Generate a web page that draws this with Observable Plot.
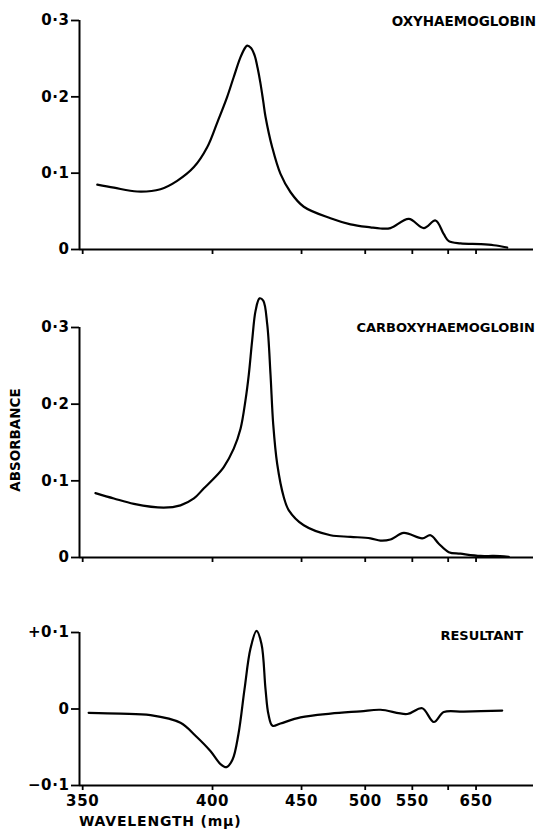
<!DOCTYPE html>
<html><head><meta charset="utf-8">
<script src="https://cdn.jsdelivr.net/npm/d3@7"></script>
<script src="https://cdn.jsdelivr.net/npm/@observablehq/plot@0.6"></script>
<style>
body{margin:0;background:#fff;}
#wrap{position:relative;width:538px;height:829px;font-family:"DejaVu Sans",sans-serif;font-weight:bold;color:#000;overflow:hidden;}
.panel{position:absolute;left:0;}
.lbl{position:absolute;font-size:13px;white-space:nowrap;line-height:1;}
</style></head><body>
<div id="wrap"></div>
<script>
// x axis (wavelength, mμ) — prism scale, linear in 1/λ²
const xDomain = [349, 811];
const xTicks = [350, 400, 450, 500, 550, 600, 650];
const xTickLabels = ["350", "400", "450", "500", "550", "", "650"];

// Oxyhaemoglobin
const oxyWavelength = [354.7,360.3,368.6,377.5,384.3,391.5,397.5,402.2,407.1,410.4,413.9,416.5,417.4,419.5,421.5,423.1,424.7,426.3,427.6,431.5,436.5,442.8,451.5,470.8,487.0,504.9,514.7,525.0,545.7,564.6,580.8,593.2,601.0,620.6,659.2,689.2,724.0];
const oxyAbsorbance = [0.085,0.081,0.076,0.079,0.090,0.108,0.134,0.166,0.200,0.226,0.252,0.265,0.267,0.264,0.254,0.238,0.218,0.194,0.174,0.134,0.099,0.075,0.056,0.041,0.033,0.029,0.0275,0.028,0.040,0.028,0.038,0.020,0.011,0.008,0.007,0.0056,0.0026];

// Carboxyhaemoglobin
const carboxyWavelength = [354.1,360.3,367.4,378.8,385.7,391.5,395.9,400.6,405.4,410.4,413.9,416.5,418.3,420.1,422.0,424.2,426.3,428.6,430.5,432.1,434.5,438.5,441.7,451.5,470.8,487.0,504.9,514.7,525.0,539.8,562.5,573.7,585.6,601.0,620.6,659.2,689.2,728.5];
const carboxyAbsorbance = [0.084,0.077,0.070,0.065,0.068,0.077,0.090,0.103,0.118,0.142,0.168,0.205,0.239,0.283,0.322,0.338,0.335,0.304,0.239,0.174,0.122,0.079,0.0615,0.042,0.029,0.027,0.025,0.022,0.0235,0.032,0.025,0.029,0.018,0.007,0.005,0.002,0.002,0.001];

// Resultant (difference)
const resultantWavelength = [351.9,362.6,373.6,385.7,392.2,399.0,403.8,406.8,409.8,412.8,416.0,419.2,422.5,425.3,427.6,429.3,431.7,436.5,449.3,470.8,495.7,514.7,543.8,562.5,578.4,593.2,626.5,710.4];
const resultantDelta = [-0.005,-0.006,-0.008,-0.018,-0.035,-0.055,-0.072,-0.076,-0.066,-0.033,0.026,0.079,0.102,0.085,0.026,-0.007,-0.022,-0.019,-0.011,-0.006,-0.003,-0.001,-0.0065,0.001,-0.017,-0.004,-0.0035,-0.002];

const yTicksAbs = [0, 0.1, 0.2, 0.3];
const yTicksRes = [-0.1, 0, 0.1];

const fmtAbs = d => d === 0 ? "0" : d.toFixed(1).replace(".", "·");
const fmtRes = d => d === 0 ? "0" : (d > 0 ? "+" : "−") + Math.abs(d).toFixed(1).replace(".", "·");

const wrap = document.getElementById("wrap");
const FONT = '"DejaVu Sans", sans-serif';

function rows(ws, vs) { return ws.map((w, i) => ({w, v: vs[i]})); }

function panel({top, height, marginTop, marginBottom, yDomain, yTicks, yFmt, data, showLabels}) {
  const chart = Plot.plot({
    width: 538, height, marginTop, marginBottom, marginLeft: 79, marginRight: 5,
    style: {fontFamily: FONT, fontSize: "15px", fontWeight: "bold", color: "#000", background: "transparent", overflow: "visible", letterSpacing: "0.6px"},
    x: {type: "pow", exponent: -2, domain: xDomain, label: null},
    y: {domain: yDomain, label: null},
    marks: [
      Plot.axisY({ticks: yTicks, tickFormat: yFmt, tickSize: 8, tickPadding: 2, strokeWidth: 1.8, label: null}),
      Plot.axisX({ticks: xTicks, tickSize: 5, tickPadding: 5, strokeWidth: 1.8, label: null,
        tickFormat: showLabels ? (d => xTickLabels[xTicks.indexOf(d)]) : (() => "")}),
      Plot.ruleX([xDomain[0]], {strokeWidth: 2}),
      Plot.ruleY([yDomain[0]], {strokeWidth: 2}),
      Plot.line(data, {x: "w", y: "v", curve: "catmull-rom", strokeWidth: 2.2, stroke: "#000"})
    ]
  });
  const d = document.createElement("div");
  d.className = "panel";
  d.style.top = top + "px";
  d.appendChild(chart);
  wrap.appendChild(d);
}

panel({top: 0, height: 262, marginTop: 20, marginBottom: 13, yDomain: [0, 0.3], yTicks: yTicksAbs, yFmt: fmtAbs,
  data: rows(oxyWavelength, oxyAbsorbance), showLabels: false});
panel({top: 300, height: 270, marginTop: 27, marginBottom: 13, yDomain: [0, 0.3], yTicks: yTicksAbs, yFmt: fmtAbs,
  data: rows(carboxyWavelength, carboxyAbsorbance), showLabels: false});
panel({top: 600, height: 229, marginTop: 32, marginBottom: 44, yDomain: [-0.1, 0.1], yTicks: yTicksRes, yFmt: fmtRes,
  data: rows(resultantWavelength, resultantDelta), showLabels: true});

function label(text, css) {
  const d = document.createElement("div");
  d.className = "lbl";
  d.textContent = text;
  Object.assign(d.style, css);
  wrap.appendChild(d);
  return d;
}
label("OXYHAEMOGLOBIN", {right: "2px", top: "15px", fontSize: "13.5px"});
label("CARBOXYHAEMOGLOBIN", {right: "3px", top: "321px"});
label("RESULTANT", {right: "15px", top: "629px"});
label("WAVELENGTH (mμ)", {left: "79px", top: "814px", fontSize: "14px", letterSpacing: "0.8px"});
label("ABSORBANCE", {left: "16px", top: "440px", fontSize: "13.5px", transform: "translate(-50%,-50%) rotate(-90deg)"});
</script>
</body></html>
